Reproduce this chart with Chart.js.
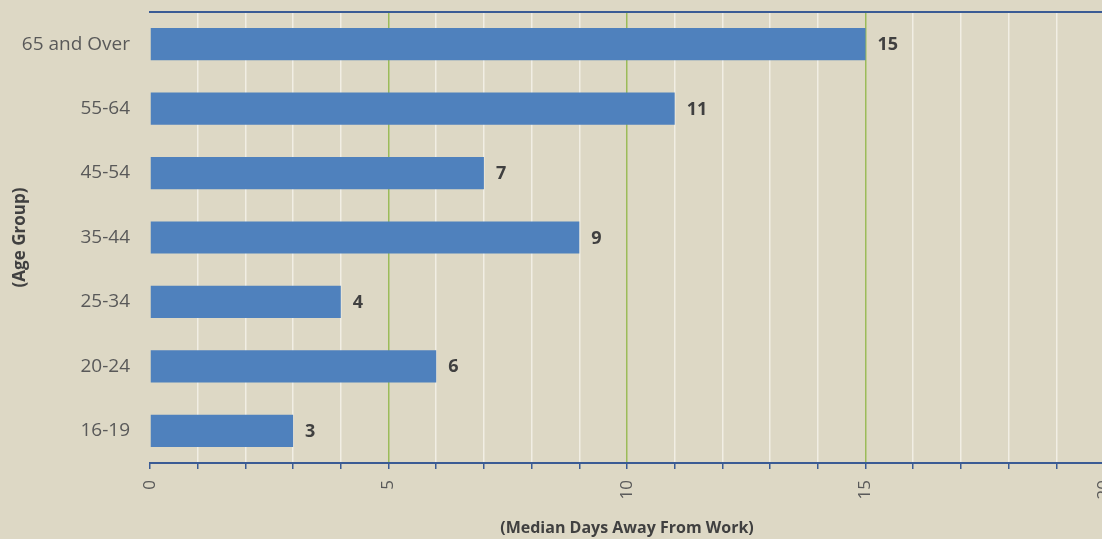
<!DOCTYPE html>
<html>
<head>
<meta charset="utf-8">
<script src="https://cdn.jsdelivr.net/npm/chart.js@4"></script>
<style>
	html, body { margin: 0; padding: 0; overflow: hidden; background: #ddd8c5; }
	canvas { display: block; }
</style>
</head>
<body>
<canvas id="chart" width="1112" height="539"></canvas>
<script>
const categories = ['65 and Over', '55-64', '45-54', '35-44', '25-34', '20-24', '16-19'];
const values = [15, 11, 7, 9, 4, 6, 3];
const xMax = 20;

const fontFamily = '"Open Sans", "Noto Sans", sans-serif';
const axisBlue = '#3a5b94';

// value labels to the right of each bar
const barLabels = {
	id: 'barLabels',
	afterDatasetsDraw(chart) {
		let ctx = chart.ctx;
		let meta = chart.getDatasetMeta(0);
		ctx.save();
		ctx.font = 'bold 18px ' + fontFamily;
		ctx.fillStyle = '#404040';
		ctx.textBaseline = 'middle';
		meta.data.forEach((bar, i) => {
			ctx.fillText(values[i], bar.x + 12, bar.y + 1);
		});
		ctx.restore();
	}
};

function noPad(scale) {
	scale.paddingTop = 0;
	scale.paddingBottom = 0;
	scale.paddingLeft = 0;
	scale.paddingRight = 0;
}

let data = {
	labels: categories,
	datasets: [{
		data: values,
		backgroundColor: '#4f81bd',
		barPercentage: 0.5,
		categoryPercentage: 1.0,
	}]
};

let options = {
	indexAxis: 'y',
	responsive: false,
	animation: false,
	layout: { padding: { left: 0, right: 8, top: 0, bottom: 0 } },
	plugins: {
		legend: { display: false },
		tooltip: { enabled: false },
	},
	scales: {
		x: {
			position: 'bottom',
			min: 0,
			max: xMax,
			afterFit(scale) { scale.height = 76; noPad(scale); },
			border: { display: true, color: axisBlue, width: 2 },
			grid: {
				color: c => c.tick.value % 5 === 0 ? (c.tick.value === 0 ? 'rgba(0,0,0,0)' : '#9bbb59') : '#f1eee4',
				lineWidth: 1.5,
				tickColor: axisBlue,
				tickLength: 6,
			},
			ticks: {
				stepSize: 1,
				autoSkip: false,
				minRotation: 90,
				maxRotation: 90,
				padding: 11,
				color: '#595959',
				font: { family: fontFamily, size: 17 },
				callback: v => v % 5 === 0 ? v : '',
			},
			title: {
				display: true,
				text: '(Median Days Away From Work)',
				color: '#404040',
				font: { family: fontFamily, size: 16, weight: 'bold' },
				padding: { top: 0, bottom: 1 },
			},
		},
		xTop: {
			position: 'top',
			min: 0,
			max: xMax,
			afterFit(scale) { scale.height = 12; noPad(scale); },
			border: { display: true, color: axisBlue, width: 2 },
			grid: { display: false, drawTicks: false },
			ticks: { display: false },
		},
		y: {
			afterFit(scale) { scale.width = 150; noPad(scale); },
			border: { display: false },
			grid: { display: false, drawTicks: false },
			ticks: {
				color: '#595959',
				padding: 20,
				font: { family: fontFamily, size: 19 },
			},
			title: {
				display: true,
				text: '(Age Group)',
				color: '#404040',
				font: { family: fontFamily, size: 17, weight: 'bold' },
				padding: { top: 10, bottom: 0 },
			},
		},
	},
};

new Chart(document.getElementById('chart').getContext('2d'), {
	type: 'bar',
	data: data,
	options: options,
	plugins: [barLabels],
});
</script>
</body>
</html>
